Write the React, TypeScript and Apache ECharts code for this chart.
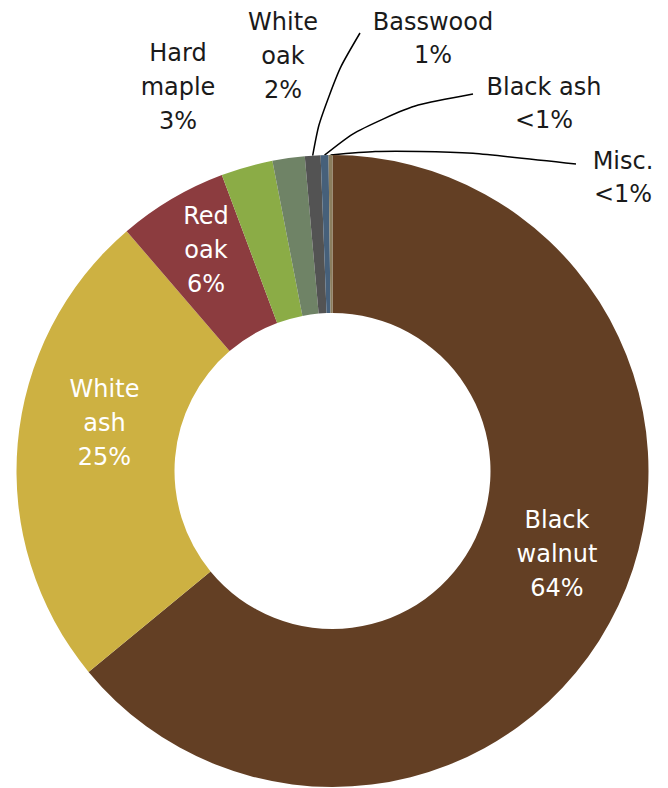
import React, { useEffect, useRef } from "react";
import * as echarts from "echarts";

const categories = ["Black walnut", "White ash", "Red oak", "Hard maple", "White oak", "Basswood", "Black ash", "Misc."];
const labelNames = ["Black\nwalnut", "White\nash", "Red\noak", "Hard\nmaple", "White\noak", "Basswood", "Black ash", "Misc."];
const values = [64.1, 24.7, 5.6, 2.65, 1.65, 0.8, 0.4, 0.2];
const colors = ["#633F24", "#CDB142", "#8C3C3F", "#8BAC46", "#6F8366", "#535353", "#46607A", "#8B7E5E"];

// label placement (center x, middle y)
const labelPos: [number, number][] = [
  [557, 554], [104.5, 422.5], [206, 250], [178, 87], [283, 55.5], [433, 38], [544, 103], [623, 177],
];
// leader line: [via point, end point]
const leaderVia: ([number, number][] | null)[] = [
  null, null, null, null, null,
  [[324, 94], [360, 33]],
  [[380, 111], [473, 94]],
  [[420, 147], [576, 164]],
];

const fmtPct = (v: number) => (v < 0.5 ? "<1%" : Math.round(v) + "%");

export default function App() {
  const ref = useRef<HTMLDivElement>(null);
  useEffect(() => {
    if (!ref.current) return;
    const chart = echarts.init(ref.current, undefined, { renderer: "svg" });
    const data = categories.map((name, i) => ({
      name,
      value: values[i],
      itemStyle: { color: colors[i] },
      label: {
        position: i < 3 ? "inside" : "outside",
        color: i < 3 ? "#ffffff" : "#1a1a1a",
        lineHeight: i < 5 ? 34 : 33,
      },
      labelLine: { show: i >= 5 },
    }));
    chart.setOption({
      animation: false,
      series: [
        {
          type: "pie",
          center: [332.5, 471],
          radius: [158, 316],
          startAngle: 90,
          clockwise: true,
          avoidLabelOverlap: false,
          silent: true,
          emphasis: { disabled: true },
          data,
          label: {
            show: true,
            fontFamily: "DejaVu Sans",
            fontSize: 24,
            formatter: (p: any) => labelNames[p.dataIndex] + "\n" + fmtPct(p.value),
          },
          labelLine: {
            smooth: 0.5,
            length: 20,
            length2: 20,
            lineStyle: { color: "#000000", width: 1.5 },
          },
          labelLayout: (params: any) => {
            const i = params.dataIndex;
            const [x, y] = labelPos[i];
            const res: any = { x, y, align: "center", verticalAlign: "middle" };
            const via = leaderVia[i];
            if (via && params.labelLinePoints && params.labelLinePoints[0]) {
              res.labelLinePoints = [params.labelLinePoints[0], ...via];
            }
            return res;
          },
        },
      ],
    });
    return () => chart.dispose();
  }, []);
  return (
    <div
      ref={ref}
      style={{ position: "absolute", left: 0, top: 0, width: 668, height: 788 }}
    />
  );
}
